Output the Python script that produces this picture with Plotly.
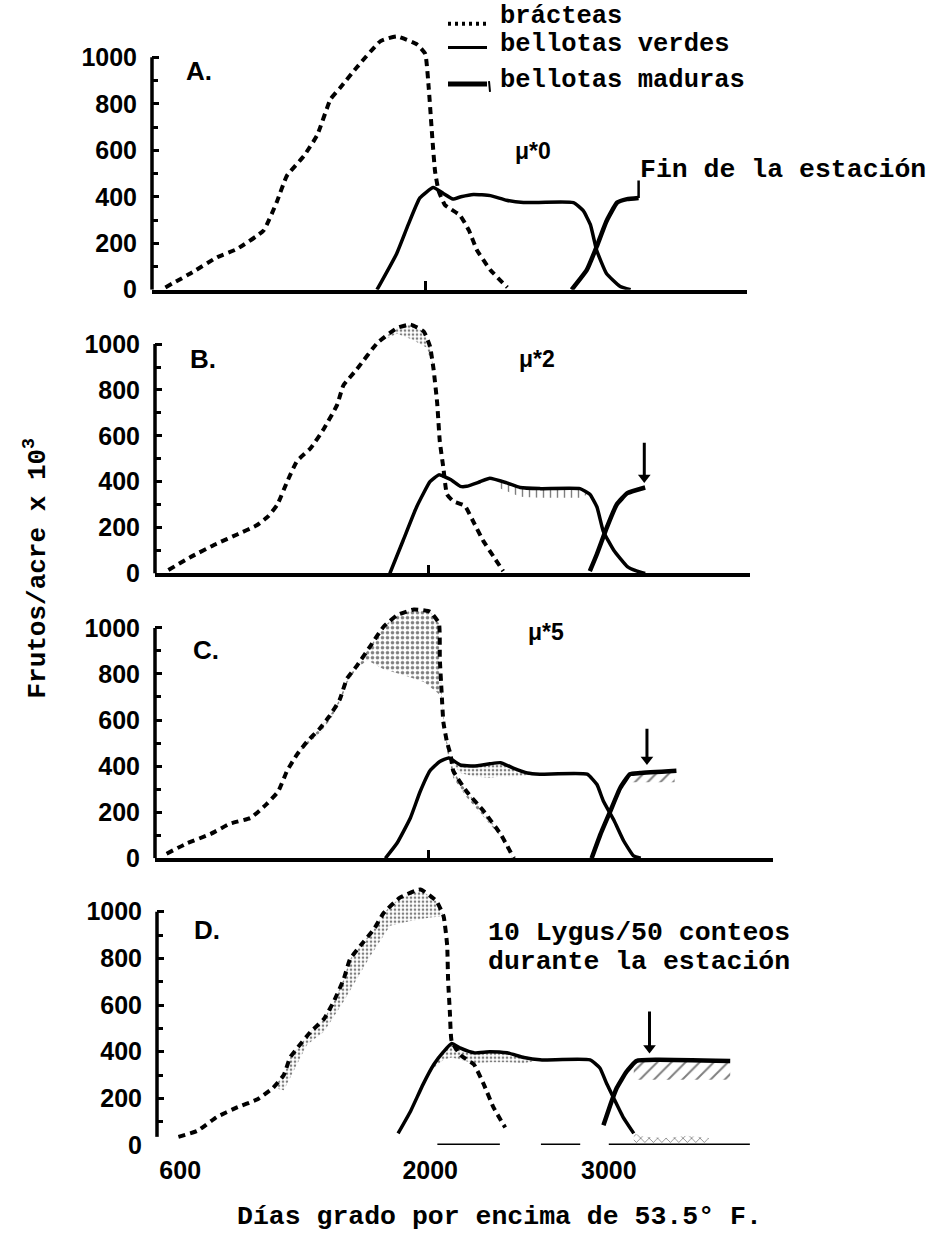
import numpy as np
import plotly.graph_objects as go

W, H = 927, 1249

# ---------------- data: degree-days above 53.5 F  vs  fruits/acre x 10^3 ----------------
# Panel A  (mu*0)
A_brac_x = [545, 685, 835, 945, 1095, 1170, 1225, 1320, 1395, 1470, 1525, 1615, 1750, 1840, 1955, 2000,
            2020, 2040, 2055, 2075, 2110, 2195, 2245, 2290, 2365, 2460]
A_brac_y = [10, 70, 140, 175, 255, 380, 490, 575, 665, 820, 870, 955, 1070, 1090, 1055, 1015,
            865, 650, 510, 425, 365, 320, 255, 170, 85, 10]
A_green_x = [1730, 1840, 1905, 1970, 2045, 2100, 2155, 2200, 2270, 2365, 2455, 2550, 2830, 2885, 2925,
             2960, 3015, 3090, 3150]
A_green_y = [0, 155, 280, 395, 440, 415, 390, 400, 410, 405, 385, 375, 375, 340, 280, 170, 70, 15, 0]
A_mat_x = [2820, 2905, 2960, 3015, 3075, 3130, 3195]
A_mat_y = [0, 85, 185, 295, 375, 390, 395]

# Panel B  (mu*2)
B_brac_x = [545, 665, 815, 930, 1040, 1105, 1155, 1210, 1265, 1340, 1415, 1490, 1525, 1600, 1715, 1825,
            1900, 1975, 2010, 2030, 2050, 2065, 2085, 2105, 2140, 2205, 2250, 2310, 2365, 2420]
B_brac_y = [15, 70, 130, 170, 210, 250, 300, 400, 490, 545, 630, 735, 820, 890, 1005, 1070,
            1085, 1055, 990, 890, 745, 575, 460, 345, 315, 295, 230, 140, 75, 10]
B_brac_low_x = [1715, 1825, 1910, 1990, 2030]
B_brac_low_y = [1005, 1045, 1020, 985, 890]
B_green_x = [1785, 1860, 1935, 2010, 2060, 2125, 2180, 2215, 2290, 2345, 2440, 2515, 2625, 2850, 2905,
             2945, 2980, 3040, 3115, 3170, 3215]
B_green_y = [0, 145, 290, 400, 430, 410, 380, 380, 400, 415, 395, 375, 370, 370, 345, 290, 185, 100,
             30, 10, 0]
B_green_low_x = [2390, 2515, 2625, 2850, 2895]
B_green_low_y = [375, 335, 330, 330, 345]
B_mat_x = [2905, 2945, 3000, 3055, 3115, 3215]
B_mat_y = [10, 85, 200, 300, 350, 375]

# Panel C  (mu*5)
C_brac_x = [535, 650, 780, 890, 1005, 1095, 1160, 1210, 1265, 1320, 1395, 1450, 1505, 1545, 1600, 1675,
            1750, 1825, 1920, 2010, 2060, 2065, 2075, 2085, 2105, 2125, 2140, 2215, 2310, 2405, 2480]
C_brac_y = [20, 65, 105, 150, 175, 235, 290, 380, 450, 505, 565, 620, 690, 780, 835, 920,
            1005, 1055, 1080, 1070, 1020, 865, 720, 590, 505, 450, 380, 290, 205, 105, 0]
C_brac_low_x = [1265, 1320, 1395, 1450, 1505, 1545, 1600, 1660, 1750, 1860, 1975, 2050, 2075, 2105,
                2140, 2215, 2310, 2405, 2465]
C_brac_low_y = [450, 490, 545, 600, 670, 760, 825, 860, 820, 795, 765, 720, 700, 470, 350, 265, 180, 95, 0]
C_green_x = [1760, 1825, 1900, 1955, 2010, 2065, 2115, 2180, 2255, 2345, 2405, 2480, 2555, 2625, 2890,
             2945, 2980, 3040, 3095, 3150, 3190]
C_green_y = [0, 65, 175, 290, 380, 420, 435, 405, 400, 410, 415, 390, 370, 365, 365, 320, 250, 165,
             75, 10, 0]
C_green_low_x = [2115, 2180, 2255, 2345, 2405, 2480, 2555, 2625]
C_green_low_y = [435, 370, 355, 350, 355, 355, 360, 365]
C_mat_x = [2915, 2965, 3020, 3075, 3130, 3185, 3390]
C_mat_y = [0, 105, 205, 305, 365, 370, 380]
C_mat_low_x = [3140, 3380]
C_mat_low_y = [330, 330]

# Panel D  (10 Lygus / 50 counts)
D_brac_x = [590, 695, 805, 915, 1030, 1120, 1180, 1215, 1255, 1330, 1405, 1460, 1515, 1550, 1610, 1685,
            1740, 1830, 1945, 2035, 2075, 2095, 2100, 2110, 2120, 2170, 2245, 2300, 2355, 2420]
D_brac_y = [35, 60, 120, 160, 195, 245, 300, 375, 415, 485, 540, 615, 710, 795, 855, 925,
            995, 1060, 1095, 1045, 980, 855, 710, 570, 445, 385, 345, 260, 160, 75]
D_brac_low_x = [1120, 1180, 1310, 1405, 1515, 1590, 1665, 1775, 1890, 2000, 2075]
D_brac_low_y = [245, 235, 430, 485, 615, 710, 810, 940, 960, 975, 980]
D_green_x = [1820, 1890, 1960, 2020, 2075, 2120, 2170, 2245, 2335, 2430, 2525, 2615, 2895, 2950, 2990,
             3025, 3080, 3140]
D_green_y = [50, 145, 260, 345, 400, 435, 415, 395, 400, 395, 375, 365, 365, 330, 260, 205, 120, 50]
D_green_low_x = [2020, 2075, 2120, 2170, 2245, 2335, 2430, 2525, 2615]
D_green_low_y = [330, 365, 375, 365, 350, 355, 355, 350, 365]
D_tail_x = [3140, 3200, 3320, 3440, 3560]
D_tail_top = [50, 35, 30, 40, 30]
D_tail_low = [10, 10, 10, 10, 10]
D_mat_x = [2970, 3010, 3045, 3100, 3155, 3270, 3680]
D_mat_y = [85, 175, 245, 315, 360, 365, 360]
D_mat_low_x = [3140, 3680]
D_mat_low_y = [280, 280]
D_base_x = [2040, 2390, None, 2620, 2840, None, 3000, 3790]
D_base_y = [0, 0, None, 0, 0, None, 0, 0]

# end-of-season markers: x, value at arrow tip, value at arrow tail
B_arrow = (3210, 388, 570)
C_arrow = (3225, 399, 562)
D_arrow = (3228, 386, 572)
A_end = (3195, 395, 470)

y_tick_vals = [0, 200, 400, 600, 800, 1000]
y_minor_vals = [100, 300, 500, 700, 900]
x_tick_vals = [600, 2000, 3000]
x_tick_text = ["600", "2000", "3000"]

# ---------------- layout geometry (pixels) ----------------
DD_PER_PX = 5.6
X0 = 470
panels = {
    "A": dict(ax="", x_px0=152, xmax=3800, y0px=293, s=235),
    "B": dict(ax="2", x_px0=155, xmax=3800, y0px=580, s=232),
    "C": dict(ax="3", x_px0=155, xmax=3930, y0px=868, s=233),
    "D": dict(ax="4", x_px0=157, xmax=3800, y0px=1158, s=236),
}
YMAX = 1120

BLACK = "black"
MONO = "Liberation Mono, Courier New, monospace"
SANS = "Liberation Sans, Arial, sans-serif"


def band(cx, cy, bx, by):
    lo, hi = min(bx), max(bx)
    tx = [lo] + [x for x in cx if lo < x < hi] + [hi]
    ty = list(np.interp(tx, cx, cy))
    return tx + bx[::-1], ty + by[::-1]


fig = go.Figure()


def add_band(ax, px, py, shape, size, solidity):
    fig.add_trace(go.Scatter(
        x=px, y=py, xaxis="x" + ax, yaxis="y" + ax, mode="lines", fill="toself",
        line=dict(width=0, color="rgba(0,0,0,0)"), fillcolor="rgba(255,255,255,0)",
        fillpattern=dict(shape=shape, size=size, solidity=solidity, fgcolor=BLACK,
                         bgcolor="rgba(255,255,255,0)"),
        hoverinfo="skip", showlegend=False))


def add_line(ax, x, y, kind):
    if kind == "brac":
        line = dict(color=BLACK, width=4, dash="7px,5px", shape="spline", smoothing=0.4)
    elif kind == "green":
        line = dict(color=BLACK, width=3.5, shape="spline", smoothing=0.4)
    elif kind == "base":
        line = dict(color=BLACK, width=3)
    else:
        line = dict(color=BLACK, width=4.5, shape="spline", smoothing=0.4)
    fig.add_trace(go.Scatter(x=x, y=y, xaxis="x" + ax, yaxis="y" + ax, mode="lines",
                             line=line, showlegend=False, hoverinfo="skip"))


# bands (stipple = damaged fruit, hatch = harvestable bolls)
add_band("2", *band(B_brac_x, B_brac_y, B_brac_low_x, B_brac_low_y), ".", 4, 0.35)
add_band("2", *band(B_green_x, B_green_y, B_green_low_x, B_green_low_y), "|", 7, 0.2)
add_band("3", *band(C_brac_x, C_brac_y, C_brac_low_x, C_brac_low_y), ".", 5, 0.4)
add_band("3", *band(C_green_x, C_green_y, C_green_low_x, C_green_low_y), ".", 4, 0.35)
add_band("3", *band(C_mat_x, C_mat_y, C_mat_low_x, C_mat_low_y), "/", 9, 0.22)
add_band("4", *band(D_brac_x, D_brac_y, D_brac_low_x, D_brac_low_y), ".", 4, 0.35)
add_band("4", *band(D_green_x, D_green_y, D_green_low_x, D_green_low_y), ".", 4, 0.35)
add_band("4", D_tail_x + D_tail_x[::-1], D_tail_top + D_tail_low[::-1], "x", 6, 0.25)
add_band("4", *band(D_mat_x, D_mat_y, D_mat_low_x, D_mat_low_y), "/", 10, 0.2)

for ax, (bx, by, gx, gy, mx, my) in {
    "": (A_brac_x, A_brac_y, A_green_x, A_green_y, A_mat_x, A_mat_y),
    "2": (B_brac_x, B_brac_y, B_green_x, B_green_y, B_mat_x, B_mat_y),
    "3": (C_brac_x, C_brac_y, C_green_x, C_green_y, C_mat_x, C_mat_y),
    "4": (D_brac_x, D_brac_y, D_green_x, D_green_y, D_mat_x, D_mat_y),
}.items():
    add_line(ax, bx, by, "brac")
    add_line(ax, gx, gy, "green")
    add_line(ax, mx, my, "mat")
add_line("4", D_base_x, D_base_y, "base")

# end-of-season arrows (line + downward head) and the "Fin de la estación" leader
for ax, (x, tip, tail) in [("2", B_arrow), ("3", C_arrow), ("4", D_arrow)]:
    fig.add_trace(go.Scatter(x=[x, x], y=[tail, tip + 20], xaxis="x" + ax, yaxis="y" + ax,
                             mode="lines", line=dict(color=BLACK, width=3),
                             showlegend=False, hoverinfo="skip"))
    fig.add_trace(go.Scatter(x=[x], y=[tip + 30], xaxis="x" + ax, yaxis="y" + ax, mode="markers",
                             marker=dict(symbol="triangle-down", size=11, color=BLACK),
                             showlegend=False, hoverinfo="skip"))
fig.add_trace(go.Scatter(x=[A_end[0], A_end[0]], y=[A_end[1], A_end[2]], mode="lines",
                         line=dict(color=BLACK, width=2.5), showlegend=False, hoverinfo="skip"))

layout = dict(width=W, height=H, margin=dict(l=0, r=0, t=0, b=0),
              paper_bgcolor="white", plot_bgcolor="white", showlegend=False)
shapes = []
for name, p in panels.items():
    ax = p["ax"]
    x1px = p["x_px0"] + (p["xmax"] - X0) / DD_PER_PX
    ytop = p["y0px"] - YMAX * p["s"] / 1000.0
    xa = dict(domain=[p["x_px0"] / W, x1px / W], range=[X0, p["xmax"]], anchor="y" + ax,
              showgrid=False, zeroline=False, fixedrange=True)
    if name != "D":
        xa.update(showline=True, linecolor=BLACK, linewidth=3.5, ticks="inside",
                  tickvals=[2000], ticklen=9, tickwidth=3, tickcolor=BLACK, showticklabels=False)
    else:
        xa.update(showline=False, ticks="", tickvals=x_tick_vals, ticktext=x_tick_text,
                  tickfont=dict(family=SANS, size=25, color=BLACK, weight="bold"),
                  ticklabelstandoff=8)
    ya = dict(domain=[1 - p["y0px"] / H, 1 - ytop / H], range=[0, YMAX], anchor="x" + ax,
              showgrid=False, zeroline=False, showline=False, fixedrange=True,
              tickvals=y_tick_vals, ticks="inside", ticklen=7, tickwidth=3, tickcolor=BLACK,
              tickfont=dict(family=SANS, size=25, color=BLACK, weight="bold"),
              ticklabelstandoff=14,
              minor=dict(tickvals=y_minor_vals, ticks="inside", ticklen=6, tickwidth=3,
                         tickcolor=BLACK))
    layout["xaxis" + ax] = xa
    layout["yaxis" + ax] = ya
    shapes.append(dict(type="line", xref=("x" + ax + " domain"), x0=0, x1=0, yref="y" + ax,
                       y0=(35 if name == "D" else 0), y1=1000,
                       line=dict(color=BLACK, width=3.5)))


def px(x, y):
    return x / W, 1 - y / H


# legend (drawn by hand like the original)
leg = [("brácteas", 17, 24, dict(color=BLACK, width=4, dash="3px,4px")),
       ("bellotas verdes", 45, 48, dict(color=BLACK, width=3)),
       ("bellotas maduras", 81, 85, dict(color=BLACK, width=5))]
annotations = []
for text, ty, ly, lstyle in leg:
    x0, y0 = px(448, ly)
    x1, _ = px(487, ly)
    shapes.append(dict(type="line", xref="paper", yref="paper", x0=x0, x1=x1, y0=y0, y1=y0,
                       line=lstyle))
    tx, tyy = px(499, ty)
    annotations.append(dict(text=text, x=tx, y=tyy, xref="paper", yref="paper", xanchor="left",
                            yanchor="middle", showarrow=False, borderpad=0,
                            font=dict(family=MONO, size=25.5, color=BLACK, weight="bold")))
mx0, my0 = px(489, 82)
mx1, my1 = px(490, 93)
shapes.append(dict(type="line", xref="paper", yref="paper", x0=mx0, x1=mx1, y0=my0, y1=my1,
                   line=dict(color=BLACK, width=2)))


def note(text, x, y, font, xanchor="center", angle=0):
    ax_, ay_ = px(x, y)
    annotations.append(dict(text=text, x=ax_, y=ay_, xref="paper", yref="paper", xanchor=xanchor,
                            yanchor="middle", showarrow=False, textangle=angle, font=font,
                            borderpad=0))


letter_font = dict(family=SANS, size=26, color=BLACK, weight="bold")
for t, x, y in [("A.", 199, 72), ("B.", 203, 363), ("C.", 206, 657), ("D.", 207, 941)]:
    note(t, x, y, letter_font)
mu_font = dict(family=SANS, size=23, color=BLACK, weight="bold")
for t, x, y in [("μ*0", 533, 153), ("μ*2", 537, 363), ("μ*5", 546, 639)]:
    note(t, x, y, mu_font)
tw = dict(family=MONO, size=26.5, color=BLACK, weight="bold")
note("Fin de la estación", 639, 172, tw, xanchor="left")
note("10 Lygus/50 conteos", 487, 944, tw, xanchor="left")
note("durante la estación", 487, 973, tw, xanchor="left")
note("Días grado por encima de 53.5° F.", 499, 1231, tw)
note("Frutos/acre x 10<sup>3</sup>", 36, 575, dict(family=MONO, size=26, color=BLACK, weight="bold"),
     angle=-90)

layout["shapes"] = shapes
layout["annotations"] = annotations
fig.update_layout(**layout)
fig.write_html("out.html")
